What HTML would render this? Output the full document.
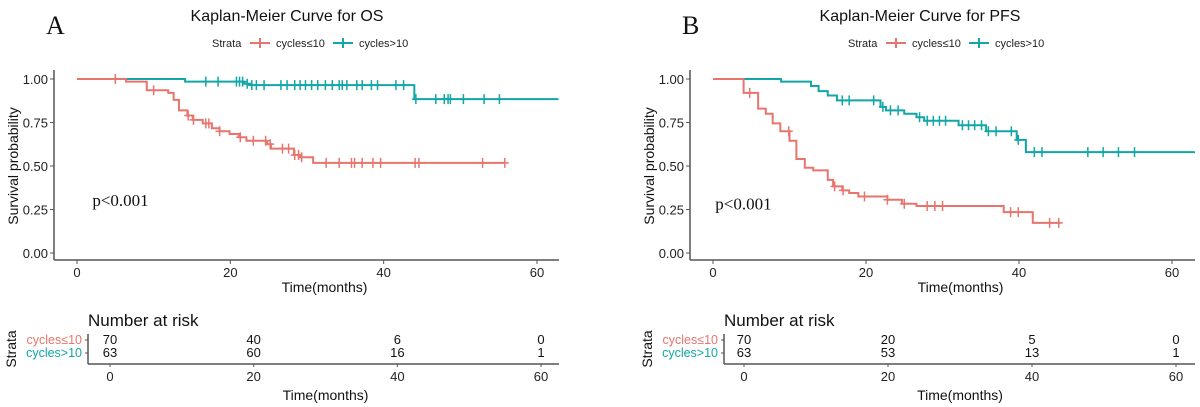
<!DOCTYPE html>
<html><head><meta charset="utf-8">
<style>
body{margin:0;background:#fff;}
svg{display:block;font-family:"Liberation Sans",sans-serif;}
</style></head>
<body>
<svg id="svg" width="1200" height="407" viewBox="0 0 1200 407"></svg>
<script>
const RED="#E8756D", TEAL="#12A6A6";
// Panel A (OS)
const osRedT=[0,6.4,9.1,11.9,12.6,13.3,14.4,15.1,16.4,17.6,18.6,19.9,21.1,22.1,24.8,25.3,28.3,29.1,30.8];
const osRedS=[1,0.985,0.935,0.92,0.88,0.82,0.79,0.765,0.745,0.717,0.70,0.684,0.665,0.645,0.626,0.60,0.563,0.55,0.518];
const osRedEnd=55.8;
const osRedCens=[5,10,14.5,15.2,16.8,17.2,18.6,21.3,23,24.6,25.2,26.8,27.6,28.4,28.9,29.3,32.5,34.2,35.8,36.2,37.2,38.6,39.6,44.1,44.6,52.9,55.8];
const osTealT=[0,14.1,21.8,22.6,44];
const osTealS=[1,0.985,0.973,0.965,0.884];
const osTealEnd=62.8;
const osTealCens=[16.8,18.4,20.8,21.2,21.6,22.2,22.8,23.4,24.4,26.6,27.4,28.4,29.1,29.8,30.6,31.4,32.4,33.3,34.2,34.6,35.2,36.5,37.2,38.4,39.2,41.6,42.6,44.2,46.8,47.9,48.4,48.7,50.4,53.1,55.1];
const osRiskRed=[70,40,6,0], osRiskTeal=[63,60,16,1];
// Panel B (PFS)
const pfsRedT=[0,4.0,5.9,6.9,7.8,8.8,10,10.9,12,13.1,15,15.7,16.9,17.8,19,22.8,24.7,26.6,38,41.8];
const pfsRedS=[1,0.92,0.83,0.80,0.745,0.70,0.645,0.54,0.49,0.475,0.42,0.383,0.36,0.345,0.325,0.306,0.283,0.27,0.235,0.173];
const pfsRedEnd=45.4;
const pfsRedCens=[4.8,9.9,15.9,17,19.8,22.8,25,28,29,30,38.9,39.9,44,45.2];
const pfsTealT=[0,8.9,12.8,13.8,15,16.2,21.9,22.6,25,26.6,27.6,32.1,35.7,39.7,40.9];
const pfsTealS=[1,0.985,0.96,0.93,0.905,0.877,0.84,0.82,0.80,0.78,0.76,0.734,0.70,0.65,0.58];
const pfsTealEnd=63;
const pfsTealCens=[16.9,17.8,21,22.2,23.2,24.2,27,28,28.8,29.6,30.4,32.6,33.4,34.2,35.1,36,37,39,39.9,42,43,49,51,53,55.1];
const pfsRiskRed=[70,20,5,0], pfsRiskTeal=[63,53,13,1];
const xTicks=[0,20,40,60], yTicks=[0,0.25,0.5,0.75,1];
const yLabels=["0.00","0.25","0.50","0.75","1.00"];

const svg=document.getElementById('svg');
const NS="http://www.w3.org/2000/svg";
function el(tag,attrs,parent,text){const e=document.createElementNS(NS,tag);for(const k in attrs)e.setAttribute(k,attrs[k]);if(text!==undefined)e.textContent=text;(parent||svg).appendChild(e);return e;}

function panel(P){
  const g=el('g',{});
  
  
  const X=t=>P.x0+(P.x60-P.x0)*t/60;
  const Y=s=>253-(253-79)*s;
  const AY=260;
  const letter=el('text',{x:P.letterX,y:34,'font-family':'Liberation Serif,serif','font-size':26,fill:'#111'},g,P.letter);
  
  const tt=el('text',{x:P.titleX,y:21,'font-size':16,'text-anchor':'middle',fill:'#111'},g,P.title);
  
  const lg=el('g',{},g);
  
  const lx=P.legX;
  el('text',{x:lx,y:47,'font-size':11,fill:'#222'},lg,'Strata');
  [[RED,'cycles≤10',lx+38],[TEAL,'cycles>10',lx+121]].forEach(([c,t,x])=>{
    const e=el('g',{},lg);
    el('line',{x1:x,x2:x+20,y1:43,y2:43,stroke:c,'stroke-width':2},e);
    el('line',{x1:x+10,x2:x+10,y1:38,y2:48,stroke:c,'stroke-width':2},e);
    el('text',{x:x+26,y:47,'font-size':11,fill:'#222'},e,t);
  });
  const ax=el('g',{},g);
  el('line',{x1:P.axL,x2:P.axL,y1:70,y2:AY,stroke:'#555','stroke-width':1.5},ax);
  el('line',{x1:P.axL,x2:P.axR,y1:AY,y2:AY,stroke:'#555','stroke-width':1.5},ax);
  yTicks.forEach((v,i)=>{el('line',{x1:P.axL-4,x2:P.axL,y1:Y(v),y2:Y(v),stroke:'#555'},ax);
    el('text',{x:P.axL-6,y:Y(v)+5,'font-size':13,'text-anchor':'end',fill:'#222'},ax,yLabels[i]);});
  xTicks.forEach(v=>{el('line',{x1:X(v),x2:X(v),y1:AY,y2:AY+4,stroke:'#555'},ax);
    el('text',{x:X(v),y:277,'font-size':13,'text-anchor':'middle',fill:'#222'},ax,v);});
  const xt=el('text',{x:(P.axL+P.axR)/2+18,y:292,'font-size':14,'text-anchor':'middle',fill:'#111'},g,'Time(months)');
  
  const yt=el('text',{x:0,y:0,'font-size':14,'text-anchor':'middle',fill:'#111',transform:`translate(${P.axL-36},166) rotate(-90)`},g,'Survival probability');
  
  const pv=el('text',{x:X(P.pT),y:Y(P.pS),'font-family':'Liberation Serif,serif','font-size':17,fill:'#111'},g,'p<0.001');
  
  function curve(T,S,end,cens,c,name){
    let d=`M${X(T[0])},${Y(S[0])}`;
    for(let i=1;i<T.length;i++){d+=`H${X(T[i])}V${Y(S[i])}`;}
    d+=`H${X(end)}`;
    const p=el('path',{d,fill:'none',stroke:c,'stroke-width':2},g);
    
    cens.forEach(t=>{let s=S[0];for(let i=0;i<T.length;i++)if(T[i]<=t)s=S[i];
      const m=el('path',{d:`M${X(t)-4},${Y(s)}H${X(t)+4}M${X(t)},${Y(s)-5}V${Y(s)+5}`,stroke:c,'stroke-width':1.5},g);
      });
  }
  curve(P.tT,P.tS,P.tE,P.tC,TEAL,'cycles-gt10');
  curve(P.rT,P.rS,P.rE,P.rC,RED,'cycles-le10');
  const rt=el('g',{},g);
  const RX=t=>P.r0+(P.r60-P.r0)*t/60;
  el('text',{x:P.rAx,y:326,'font-size':17,fill:'#111'},rt,'Number at risk');
  el('line',{x1:P.rAx,x2:P.rAx,y1:334,y2:364,stroke:'#555','stroke-width':1.5},rt);
  el('line',{x1:P.rAx,x2:P.axR,y1:364,y2:364,stroke:'#555','stroke-width':1.5},rt);
  [[RED,'cycles≤10',344,P.riskR],[TEAL,'cycles>10',357,P.riskT]].forEach(([c,t,y,vals])=>{
    el('line',{x1:P.rAx-3,x2:P.rAx,y1:y-4,y2:y-4,stroke:'#555'},rt);
    el('text',{x:P.rAx-6,y,'font-size':12.5,'text-anchor':'end',fill:c},rt,t);
    vals.forEach((v,i)=>el('text',{x:RX(xTicks[i]),y,'font-size':13,'text-anchor':'middle',fill:'#111'},rt,v));
  });
  xTicks.forEach(v=>{el('line',{x1:RX(v),x2:RX(v),y1:364,y2:367,stroke:'#555'},rt);
    el('text',{x:RX(v),y:381,'font-size':13,'text-anchor':'middle',fill:'#222'},rt,v);});
  el('text',{x:(RX(0)+RX(60))/2,y:400,'font-size':14,'text-anchor':'middle',fill:'#111'},rt,'Time(months)');
  el('text',{x:0,y:0,'font-size':14,'text-anchor':'middle',fill:'#111',transform:`translate(${P.rAx-72},349) rotate(-90)`},rt,'Strata');
}
panel({id:'os',letter:'A',letterX:46,title:'Kaplan-Meier Curve for OS',titleX:287,legX:212,
  x0:77,x60:537,axL:54,axR:559,pT:2,pS:0.27,
  rT:osRedT,rS:osRedS,rE:osRedEnd,rC:osRedCens,tT:osTealT,tS:osTealS,tE:osTealEnd,tC:osTealCens,
  r0:110,r60:541,rAx:88,riskR:osRiskRed,riskT:osRiskTeal});
panel({id:'pfs',letter:'B',letterX:682,title:'Kaplan-Meier Curve for PFS',titleX:920,legX:848,
  x0:713,x60:1172,axL:690,axR:1195,pT:0.3,pS:0.25,
  rT:pfsRedT,rS:pfsRedS,rE:pfsRedEnd,rC:pfsRedCens,tT:pfsTealT,tS:pfsTealS,tE:pfsTealEnd,tC:pfsTealCens,
  r0:744,r60:1176,rAx:724,riskR:pfsRiskRed,riskT:pfsRiskTeal});
</script>
</body></html>
